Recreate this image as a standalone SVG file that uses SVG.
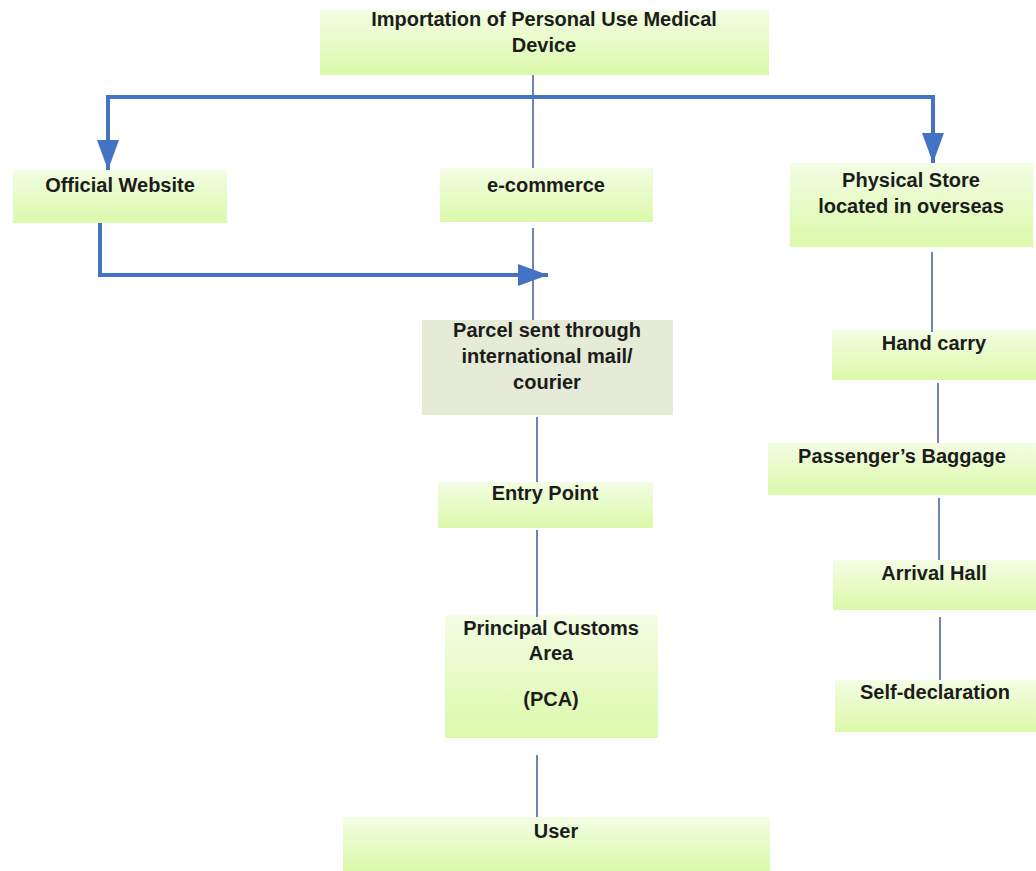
<svg xmlns="http://www.w3.org/2000/svg" width="1036" height="871" viewBox="0 0 1036 871">
<defs>
<linearGradient id="g" x1="0" y1="0" x2="0" y2="1">
<stop offset="0" stop-color="#f3fde4"/>
<stop offset="1" stop-color="#dbf9aa"/>
</linearGradient>
<marker id="ah" markerUnits="userSpaceOnUse" markerWidth="32" markerHeight="24" refX="30" refY="11" orient="auto">
<path d="M0,0 L30,11 L0,22 z" fill="#4472c4"/>
</marker>
<style>
.box{fill:url(#g);}
.grey{fill:#e5ebd7;}
text{font-family:"Liberation Sans",Arial,sans-serif;font-weight:bold;font-size:20px;fill:#1c1c1c;text-anchor:middle;}
.thick{fill:none;stroke:#4472c4;stroke-width:4;}
.thin{fill:none;stroke:#7382b6;stroke-width:2;}
</style>
</defs>
<rect width="1036" height="871" fill="#ffffff"/>

<g id="n-top"><rect class="box" x="320" y="10" width="449" height="65"/>
<text x="544" y="26">Importation of Personal Use Medical</text><text x="544" y="52">Device</text></g>
<g id="n-official"><rect class="box" x="13" y="170" width="214" height="53"/><text x="120" y="192">Official Website</text></g>
<g id="n-ecommerce"><rect class="box" x="440" y="168" width="213" height="54"/><text x="546" y="192">e-commerce</text></g>
<g id="n-physical"><rect class="box" x="790" y="163" width="243" height="84"/><text x="911" y="187">Physical Store</text><text x="911" y="213">located in overseas</text></g>
<g id="n-parcel"><rect class="grey" x="422" y="320" width="251" height="95"/><text x="547" y="337">Parcel sent through</text><text x="547" y="363">international mail/</text><text x="547" y="389">courier</text></g>
<g id="n-entry"><rect class="box" x="438" y="482" width="215" height="46"/><text x="545" y="500">Entry Point</text></g>
<g id="n-pca"><rect class="box" x="445" y="615" width="213" height="123"/><text x="551" y="635">Principal Customs</text><text x="551" y="660">Area</text><text x="551" y="706">(PCA)</text></g>
<g id="n-user"><rect class="box" x="343" y="817" width="427" height="54"/><text x="556" y="838">User</text></g>
<g id="n-hand"><rect class="box" x="832" y="330" width="204" height="50"/><text x="934" y="350">Hand carry</text></g>
<g id="n-baggage"><rect class="box" x="768" y="443" width="268" height="52"/><text x="902" y="463">Passenger’s Baggage</text></g>
<g id="n-arrival"><rect class="box" x="833" y="560" width="203" height="50"/><text x="934" y="580">Arrival Hall</text></g>
<g id="n-self"><rect class="box" x="835" y="680" width="201" height="52"/><text x="935" y="699">Self-declaration</text></g>

<g id="connectors">
<path class="thin" d="M533,75 V168"/>
<path class="thin" d="M533,228 V320"/>
<path class="thin" d="M537,417 V482"/>
<path class="thin" d="M537,530 V617"/>
<path class="thin" d="M537,755 V817"/>
<path class="thin" d="M932,252 V332"/>
<path class="thin" d="M938,383 V443"/>
<path class="thin" d="M939,498 V560"/>
<path class="thin" d="M940,617 V680"/>
<path class="thick" d="M535,97 H108 V170" marker-end="url(#ah)"/>
<path class="thick" d="M535,97 H933 V163" marker-end="url(#ah)"/>
<path class="thick" d="M100,223 V275 H548" marker-end="url(#ah)"/>
</g>
</svg>
